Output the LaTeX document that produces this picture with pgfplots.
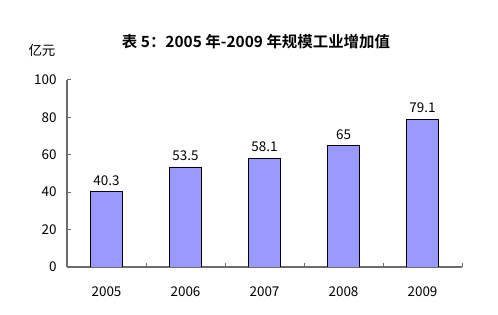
\documentclass[border=0pt]{standalone}
\usepackage{fontspec}
\setmainfont{Noto Sans CJK SC}
\newfontfamily\titlefont[BoldFont={Noto Sans CJK SC Bold}]{Noto Sans CJK SC}
\usepackage{pgfplots}
\pgfplotsset{compat=1.18}
\definecolor{barfill}{HTML}{9999FF}
\begin{document}
\begin{tikzpicture}
\begin{axis}[
  name=ax,
  scale only axis,
  width=395bp, height=187bp,
  xmin=-0.5, xmax=4.5,
  ymin=0, ymax=100,
  axis lines*=left,
  axis line style={draw=gray!85!black, line width=1.3bp},
  ytick={0,20,40,60,80,100},
  xtick={0,1,2,3,4},
  xticklabels={2005,2006,2007,2008,2009},
  major x tick style={draw=none},
  minor xtick={0.5,1.5,2.5,3.5,4.5},
  minor x tick style={draw=gray!85!black, line width=1bp},
  minor tick length=4bp,
  major tick length=4bp,
  ytick style={draw=gray!85!black, line width=1bp},
  tick align=inside,
  /pgf/number format/assume math mode=true,
  tick label style={font=\fontsize{13.5}{15}\selectfont},
  yticklabel style={xshift=-7bp},
  xticklabel style={yshift=-16bp},
  nodes near coords,
  every node near coord/.append style={font=\fontsize{13.5}{15}\selectfont, yshift=2.5bp},
  point meta=explicit symbolic,
]
\addplot[ybar, bar width=32bp, fill=barfill, draw=black, line width=0.8bp]
  coordinates {(0,40.3)[40.3] (1,53.5)[53.5] (2,58.1)[58.1] (3,65)[65] (4,79.1)[79.1]};
\end{axis}
\node[font=\titlefont\bfseries\fontsize{15.5}{17}\selectfont] at ([shift={(189bp,225bp)}]ax.south west) {表 5：2005 年-2009 年规模工业增加值};
\node[font=\fontsize{13.5}{15}\selectfont] at ([shift={(-25bp,217bp)}]ax.south west) {亿元};
\pgfresetboundingbox
\path[use as bounding box] ([shift={(-67bp,-48bp)}]ax.south west) rectangle ([shift={(431bp,267bp)}]ax.south west);
\end{tikzpicture}
\end{document}
